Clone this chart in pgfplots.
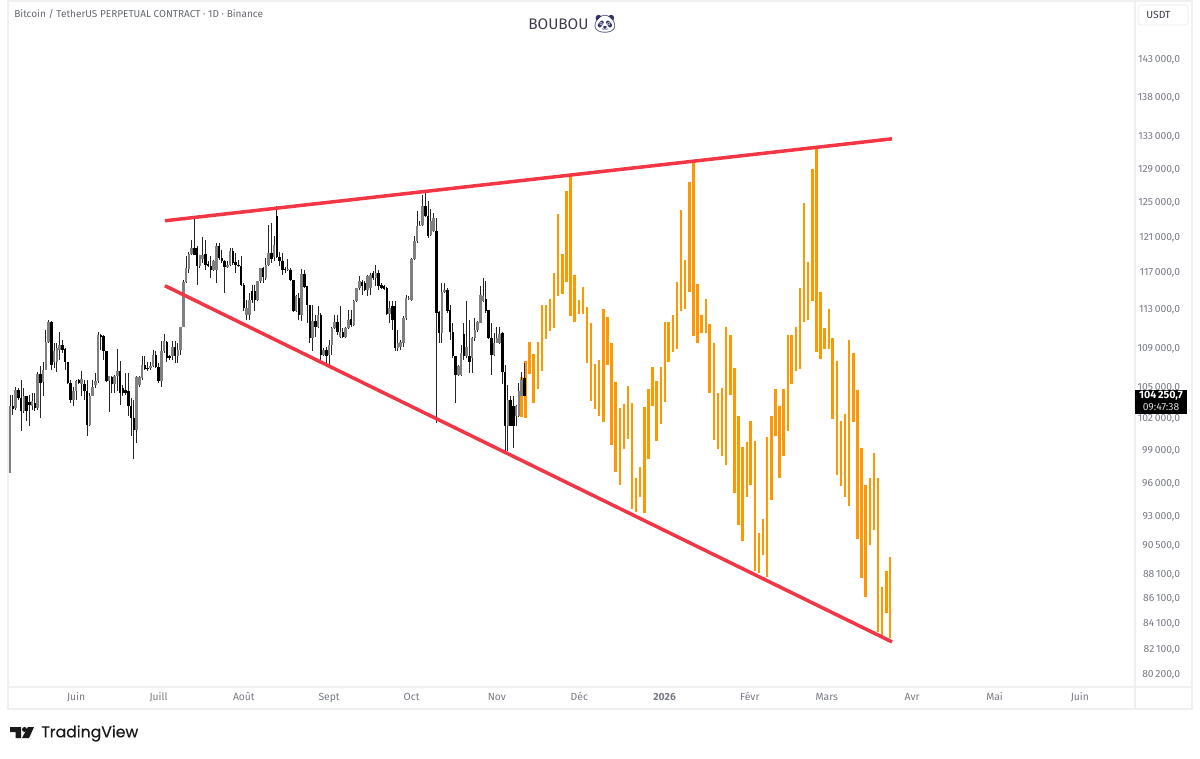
\documentclass[border=0pt]{standalone}
\usepackage{fontspec}
\usepackage{pgfplots}
\usepackage{pgfplotstable}
\pgfplotsset{compat=1.18}
\setmainfont{Fira Sans}
\newfontfamily\emoji{Noto Emoji}
\newfontfamily\tvfont[FakeBold=0.4]{Poppins}
\definecolor{axtxt}{HTML}{787B86}
\definecolor{frameln}{HTML}{F0F0F2}
\definecolor{orangebar}{HTML}{FF9800}
\definecolor{redline}{HTML}{F23645}
\definecolor{titletxt}{HTML}{3E3E4E}
\definecolor{upbody}{HTML}{808080}
\pgfplotstableread{
d h l t b
-24 104240 96840 103110 96840
-22 105000 102790 104730 102950
-19 104900 102470 104080 102630
-16 104410 102790 103600 103110
-14 106460 102790 106320 102950
-12 107560 104080 106720 105470
-11 110810 106720 109510 106720
-10 111870 109440 111590 109510
-8 109440 106890 108580 107560
-7 109440 106460 108920 107560
-6 110640 107730 109260 108750
-1 105060 103110 104570 103760
0 105730 103700 105630 104570
2 106650 104080 105800 105330
5 104410 101190 104150 101350
6 105730 104080 105060 104150
7 106390 104900 105560 105230
8 110540 105400 110230 105560
12 106060 102530 106060 105560
14 106220 104410 106060 105330
15 108820 104570 106650 106060
22 106060 99610 105990 100810
23 106060 105060 105990 105230
24 108070 105730 107220 105890
27 107560 106720 107120 106890
28 108750 106990 108240 107060
31 109610 105000 108680 105560
32 110400 108410 109610 108680
35 109610 107730 109090 108070
37 109440 107390 108750 108070
38 111160 108240 111060 108750
39 116160 111160 115870 111160
40 118730 115800 117450 115870
41 119290 116900 119030 117340
42 120610 118920 119670 119030
45 118920 117450 118920 117630
46 120910 118000 118920 118430
50 118360 117080 118180 117260
51 120230 115800 119860 117260
55 118180 117450 117820 117560
56 119670 117630 119400 117820
62 114000 111870 113110 112400
63 114710 111870 114000 112400
66 115980 113820 115980 114000
67 117450 115800 117450 115980
69 118550 116160 117820 116350
70 122330 117710 119170 117820
72 120990 118180 120040 118660
77 118430 117080 117340 117190
80 114530 112650 114360 112760
82 117340 111690 116830 112400
86 113470 108580 111690 109950
88 113360 110980 112400 111160
90 108920 108070 108750 108240
92 109780 107220 109260 108240
93 111160 108240 110980 109260
94 112400 110880 111590 110980
96 113290 109950 110540 110120
98 111160 109950 110980 110050
99 112930 110880 111870 110980
101 114000 111230 113820 111340
102 115260 113710 115260 113820
103 116530 115070 115980 115260
106 116720 114360 116530 115070
107 116900 114530 116720 115260
109 117820 115440 116900 116350
114 113820 111520 113110 112510
117 110810 108580 109440 108920
118 109780 108750 109510 109090
119 112230 109090 112050 109440
120 114530 111870 114180 112050
121 114360 113930 114180 114070
122 118510 113820 118430 113930
123 120990 118360 120420 118430
124 123870 120230 122140 120420
125 122710 122140 122330 122220
126 125840 122140 124470 122330
129 124150 120990 122710 121180
130 123680 121450 123100 121560
133 115800 109440 114780 110470
134 115800 114710 115000 114780
139 107220 106060 107120 106220
140 109260 106060 108410 106220
142 113820 107900 109090 108140
144 110120 106390 109950 107900
145 112050 109610 110810 109950
146 111690 110640 111590 110810
147 115510 111520 114530 111520
148 116350 113710 114360 113820
152 110470 108070 109440 108240
153 111160 109440 109950 109440
154 111160 109370 110400 109440
157 105230 98830 103760 101250
160 103270 101190 103110 102150
161 105400 102090 104570 102150
162 106550 104080 105730 104080
}\upcandles
\pgfplotstableread{
d h l t b
-23 104240 102310 103110 102890
-21 104900 103760 104730 103920
-20 105730 100710 103920 102630
-18 104080 101670 104080 102630
-17 104240 101250 103500 103270
-15 104410 102630 103440 102950
-13 107060 101990 106320 105400
-9 111690 106720 111590 107220
-5 109780 108410 109260 108750
-4 108920 106720 108820 107560
-3 107560 105330 107560 105400
-2 105730 103440 105400 103760
1 105800 105330 105730 105400
3 105730 103760 105330 104570
4 105730 100300 104570 101350
9 110400 108750 110230 110050
10 110300 107730 110190 108580
11 108580 105470 108580 105560
13 106060 104410 105990 105330
16 107660 103270 106650 104410
17 105230 104080 104900 104410
18 106390 104240 104730 104470
19 106390 102150 104570 103110
20 103920 100240 103110 101990
21 103760 98120 101990 100810
25 108070 106720 107220 106790
26 107460 106650 106920 106790
29 108680 106890 108240 106990
30 107390 105400 106990 105560
33 109610 107560 109540 107900
34 108240 107730 108070 107900
36 109610 107390 109090 108070
43 123220 118920 119670 118920
44 119860 115620 119670 117630
47 120610 117260 119030 117820
48 118180 117560 117930 117710
49 118730 116350 117710 117260
52 120230 118360 119930 118550
53 119480 118000 118550 118180
54 118360 114710 118180 117560
57 119670 117820 119400 118000
58 119100 116900 118070 117820
59 118360 117560 117820 117710
60 118730 115440 117710 115620
61 115800 112760 115620 113110
64 115620 113640 114890 114000
65 115620 112760 114890 114000
68 117560 115800 117450 116460
71 122520 118000 119170 118430
73 124470 118550 123300 118660
74 119290 117630 118660 118180
75 119100 116720 118180 117260
76 117560 116900 117340 117190
78 117450 115980 117260 116090
79 116160 112650 116160 112760
81 114710 111870 114180 112400
83 117260 115260 116830 115370
84 115510 111520 115440 113470
85 113470 109440 113470 109950
87 112400 110120 111690 111160
89 112580 107390 112400 108240
91 109090 107220 108750 108070
95 112400 110300 111590 110540
97 110980 109950 110540 110050
100 112930 111160 111940 111340
104 116160 114530 115870 115440
105 115980 114890 115800 115070
108 117080 116160 116900 116350
110 117260 115070 116900 115440
111 115800 115140 115620 115260
112 115620 115070 115510 115140
113 115370 112400 115260 112510
115 113820 110810 113290 111870
116 113820 108580 113290 108920
127 126110 123220 124550 123300
128 125050 120800 123300 120990
131 123100 101510 121560 112580
132 112760 109440 112650 110470
135 115260 112580 115070 112760
136 113470 109780 112930 110640
137 111520 107900 110640 108070
138 108140 103440 108070 106220
141 111520 107730 110400 108070
143 111870 106390 108140 107460
149 115980 112580 114070 112760
150 112930 109850 112860 109950
151 111520 106220 109950 108240
155 110640 105330 110470 106460
156 107220 98830 106460 101250
158 104080 101190 103760 101250
159 104080 99140 103110 101250
163 107390 104080 105890 104150
}\downcandles
\pgfplotstableread{
d h l
161.9 106030 102120
163.4 107630 102020
164.9 109570 106320
166.4 108340 103440
167.9 109570 104860
169.4 113430 106650
170.8 113430 109850
172.3 114070 110740
173.8 116900 111020
175.3 123600 114350
176.8 119000 114570
178.3 126280 115940
179.8 128080 112220
181.3 116710 111620
182.8 114000 112430
184.3 115400 112430
185.7 113220 107400
187.2 111580 103600
188.7 107320 102860
190.2 107730 102150
191.7 113040 101570
193.2 112160 107190
194.7 109440 99430
196.2 105460 96980
197.7 102980 95750
199.2 103370 99050
200.6 105130 100020
202.1 103440 93620
203.6 96360 93380
205.1 97390 94730
206.6 103050 93270
208.1 104800 98120
209.6 107050 103180
211.1 105600 99810
212.6 106990 101380
214.1 111660 103500
215.5 111660 107460
217.0 112320 108550
218.5 115910 108820
220.0 123990 112790
221.5 118360 113000
223.0 127340 114780
224.5 129610 110190
226.0 115650 109490
227.5 112400 110460
229.0 114070 110460
230.4 111450 104470
231.9 109490 99930
233.4 104410 99100
234.9 104900 98370
236.4 111160 97600
237.9 110260 104210
239.4 106890 95030
240.9 102210 92220
242.4 99230 90810
243.9 99740 94680
245.3 101730 95750
246.8 99840 88340
248.3 91530 88150
249.8 92770 89660
251.3 100180 87860
252.8 102210 94440
254.3 104800 100310
255.8 103180 96420
257.3 104800 98370
258.8 110260 100800
260.2 110260 105260
261.7 111160 106590
263.2 115210 106850
264.7 124850 111620
266.2 118170 111800
267.7 128880 113860
269.2 131450 108550
270.7 114850 107800
272.2 110990 108820
273.7 113040 108880
275.1 109950 101900
276.6 107660 96660
278.1 101730 95680
279.6 102370 94730
281.1 109710 93850
282.6 108470 101570
284.1 104730 91010
285.6 99170 87770
287.1 95750 86180
288.6 96360 90500
290.1 98680 91810
291.6 96420 83360
293.1 86990 83040
294.6 88360 84900
296.0 89480 82940
}\orangebars
\begin{document}
\begin{tikzpicture}[x=0.6pt,y=-0.6pt]
% full page, coordinates in reference pixels (origin moved to top left)
\begin{scope}[yshift=454.8pt]
\fill[white] (0,0) rectangle (1200,758);
\draw[frameln,line width=1.2pt] (8,1) rectangle (1192,709);
\draw[frameln,line width=0.9pt] (8,687) -- (1192,687);
\draw[frameln,line width=0.9pt] (1135,1) -- (1135,709);
\node[anchor=west,inner sep=0,text=axtxt!85!black,font=\fontsize{6.02pt}{7pt}\selectfont] at (14,14) {Bitcoin / TetherUS PERPETUAL CONTRACT · 1D · Binance};
\node[anchor=west,inner sep=0,text=titletxt,font=\fontsize{9.2pt}{11pt}\selectfont] at (528,24) {BOUBOU};
\node[anchor=center,inner sep=0,text=titletxt!85!blue,font=\fontsize{11pt}{12pt}\selectfont] at (605,24) {\emoji 🐼};
\draw[frameln,fill=white,rounded corners=2pt,line width=0.6pt] (1138,5) rectangle (1188,25);
\node[anchor=west,inner sep=0,text=titletxt,font=\fontsize{6.2pt}{7pt}\selectfont] at (1146,15) {USDT};
\end{scope}
\begin{axis}[
  at={(5.4pt,43.2pt)},anchor=south west,
  scale only axis,width=675.6pt,height=409.2pt,
  ymode=log,
  xmin=-24.4,xmax=385.05,ymin=79280,ymax=150600,
  axis line style={draw=none},
  major tick length=0pt,minor tick length=0pt,
  tick style={draw=none},
  xtick={0,30,61,92,122,153,183,214,245,273,304,334,365},
  xticklabels={Juin,Juill,Août,Sept,Oct,Nov,Déc,\textbf{2026},Févr,Mars,Avr,Mai,Juin},
  x tick label style={font=\fontsize{6.2pt}{7pt}\selectfont,text=axtxt,anchor=center,yshift=-7.2pt,text height=4.6pt,text depth=1.2pt},
  ytick={143000,138000,133000,129000,125000,121000,117000,113000,109000,105000,102000,99000,96000,93000,90500,88100,86100,84100,82100,80200},
  yticklabels={{143\,000,0},{138\,000,0},{133\,000,0},{129\,000,0},{125\,000,0},{121\,000,0},{117\,000,0},{113\,000,0},{109\,000,0},{105\,000,0},{102\,000,0},{99\,000,0},{96\,000,0},{93\,000,0},{90\,500,0},{88\,100,0},{86\,100,0},{84\,100,0},{82\,100,0},{80\,200,0}},
  yticklabel pos=right,
  y tick label style={font=\fontsize{6.2pt}{7pt}\selectfont,text=axtxt,anchor=east,xshift=30.6pt,yshift=-0.7pt},
  clip=false,
  error bars/error mark=none,
]
\addplot[draw=none,mark=none,forget plot,error bars/.cd,y dir=minus,y explicit,error bar style={orangebar,line width=1.5pt}]
  table[x=d,y=h,y error minus expr=\thisrow{h}-\thisrow{l}] {\orangebars};
\addplot[draw=none,mark=none,forget plot,error bars/.cd,y dir=minus,y explicit,error bar style={black!85,line width=0.5pt}]
  table[x=d,y=h,y error minus expr=\thisrow{h}-\thisrow{l}] {\upcandles};
\addplot[draw=none,mark=none,forget plot,error bars/.cd,y dir=minus,y explicit,error bar style={black!85,line width=0.5pt}]
  table[x=d,y=h,y error minus expr=\thisrow{h}-\thisrow{l}] {\downcandles};
\addplot[draw=none,mark=none,forget plot,error bars/.cd,y dir=minus,y explicit,error bar style={upbody,line width=1.5pt}]
  table[x=d,y=t,y error minus expr=\thisrow{t}-\thisrow{b}] {\upcandles};
\addplot[draw=none,mark=none,forget plot,error bars/.cd,y dir=minus,y explicit,error bar style={black,line width=1.5pt}]
  table[x=d,y=t,y error minus expr=\thisrow{t}-\thisrow{b}] {\downcandles};
\addplot[redline,line width=2.1pt,forget plot] coordinates {(32.3,122790)(296.7,132630)};
\addplot[redline,line width=2.1pt,forget plot] coordinates {(32.3,115510)(296.7,82620)};
\end{axis}
\begin{scope}[yshift=454.8pt]
\fill[black] (1135,390) rectangle (1187,414);
\node[anchor=center,inner sep=0,text=white,font=\fontsize{6.4pt}{7pt}\bfseries\selectfont] at (1161,396) {104\,250,7};
\node[anchor=center,inner sep=0,text=white!85!black,font=\fontsize{6.2pt}{7pt}\selectfont] at (1161,407.5) {09:47:38};
% TradingView logo
\fill[black!90] (10,727) -- (21,727) -- (21,738) -- (15.5,738) -- (15.5,732) -- (10,732) -- cycle;
\fill[black!90] (24.5,729.5) circle (2.5);
\fill[black!90] (28,727) -- (34,727) -- (29,738) -- (22,738) -- cycle;
\node[anchor=west,inner sep=0,text=black!90,font=\fontsize{9.4pt}{12pt}\selectfont] at (41,733.5) {\tvfont TradingView};
\end{scope}
\end{tikzpicture}
\end{document}
